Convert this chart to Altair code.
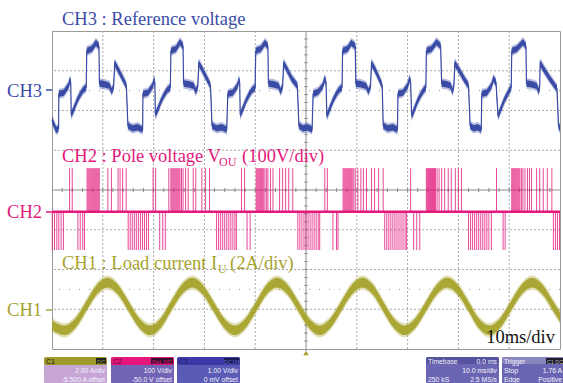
import altair as alt
import pandas as pd

# ---------------- data (time in ms, amplitude in screen divisions, 0 = bottom) -------------
ch3_t = [0.0, 0.83, 1.30,
         1.34, 2.34, 3.24, 3.54, 3.69, 3.79, 4.34, 4.94, 5.54, 6.14, 6.74, 6.84, 7.84, 8.64, 9.24, 9.34,
         10.34, 11.34, 11.74, 12.14, 12.34, 13.14, 13.94, 14.64, 14.94, 15.84, 16.84, 17.84,
         17.90, 18.90, 19.80, 20.10, 20.25, 20.35, 20.90, 21.50, 22.10, 22.70, 23.30, 23.40, 24.40, 25.20, 25.80, 25.90,
         26.90, 27.90, 28.30, 28.70, 28.90, 29.70, 30.50, 31.20, 31.50, 32.40, 33.40, 34.40,
         34.60, 35.60, 36.50, 36.80, 36.95, 37.05, 37.60, 38.20, 38.80, 39.40, 40.00, 40.10, 41.10, 41.90, 42.50, 42.60,
         43.60, 44.60, 45.00, 45.40, 45.60, 46.40, 47.20, 48.30, 48.60, 49.40, 50.30, 51.20,
         51.40, 52.40, 53.30, 53.70, 53.95, 54.10, 54.70, 55.30, 55.90, 56.50, 57.10, 57.20, 58.20, 58.90, 59.70, 59.80,
         60.80, 61.80, 62.30, 62.70, 62.90, 63.70, 64.40, 65.00, 65.20, 66.10, 67.10, 68.00,
         68.10, 69.10, 70.00, 70.40, 70.60, 70.80, 71.40, 72.00, 72.60, 73.20, 73.60, 73.70, 74.70, 75.70, 76.50, 76.70,
         77.70, 78.50, 78.80, 79.10, 79.30, 80.20, 81.10, 82.00, 82.30, 83.00, 83.80, 84.50,
         84.60, 85.60, 86.50, 86.90, 87.40, 87.80, 88.40, 89.00, 89.60, 90.10, 90.40, 90.50, 91.50, 92.70, 93.30, 93.40,
         94.40, 95.40, 95.80, 96.00, 96.10, 97.00, 98.00, 99.40, 99.70, 100.0]
ch3_v = [5.76, 5.51, 5.55,
         6.42, 6.45, 6.62, 6.77, 6.70, 5.89, 6.05, 6.25, 6.40, 6.52, 6.58, 7.50, 7.55, 7.70, 7.62, 6.68,
         6.66, 6.62, 6.48, 6.60, 7.19, 7.00, 6.80, 6.62, 5.62, 5.55, 5.58, 5.52,
         6.42, 6.45, 6.62, 6.77, 6.70, 5.89, 6.05, 6.25, 6.40, 6.52, 6.58, 7.50, 7.55, 7.72, 7.62, 6.68,
         6.66, 6.62, 6.48, 6.60, 7.19, 7.00, 6.80, 6.62, 5.62, 5.55, 5.58, 5.52,
         6.42, 6.45, 6.62, 6.77, 6.70, 5.89, 6.05, 6.25, 6.40, 6.52, 6.58, 7.50, 7.55, 7.70, 7.62, 6.68,
         6.66, 6.62, 6.48, 6.60, 7.19, 7.00, 6.80, 6.62, 5.62, 5.55, 5.58, 5.52,
         6.42, 6.47, 6.62, 6.80, 6.70, 5.86, 6.05, 6.25, 6.40, 6.52, 6.58, 7.50, 7.55, 7.70, 7.62, 6.68,
         6.66, 6.62, 6.48, 6.60, 7.19, 7.00, 6.80, 6.62, 5.62, 5.55, 5.58, 5.52,
         6.42, 6.45, 6.62, 6.80, 6.70, 5.86, 6.05, 6.25, 6.40, 6.52, 6.58, 7.50, 7.55, 7.72, 7.62, 6.68,
         6.66, 6.62, 6.48, 6.60, 7.19, 7.00, 6.80, 6.62, 5.62, 5.55, 5.58, 5.52,
         6.42, 6.45, 6.62, 6.80, 6.70, 5.86, 6.05, 6.25, 6.40, 6.52, 6.58, 7.50, 7.55, 7.72, 7.62, 6.68,
         6.66, 6.62, 6.48, 6.60, 7.19, 7.00, 6.80, 6.55, 5.62, 5.55]

ch1_t = [0.0, 2.5, 4.6, 6.7, 8.8, 10.9, 13.0, 15.1, 17.2, 19.3, 21.4, 23.4, 25.5, 27.6, 29.7, 31.8,
         33.9, 36.0, 38.1, 40.2, 42.2, 44.3, 46.4, 48.5, 50.6, 52.7, 54.8, 56.9, 59.0, 61.1, 63.2,
         65.2, 67.3, 69.4, 71.5, 73.6, 75.7, 77.8, 79.9, 82.0, 84.0, 86.1, 88.2, 90.3, 92.4, 94.5,
         96.6, 98.7, 100.0]
ch1_v = [0.60, 0.47, 0.65, 1.07, 1.49, 1.67, 1.49, 1.07, 0.65, 0.47, 0.65, 1.07, 1.49, 1.67, 1.49, 1.07,
         0.65, 0.47, 0.65, 1.07, 1.49, 1.67, 1.49, 1.07, 0.65, 0.47, 0.65, 1.07, 1.49, 1.67, 1.49,
         1.07, 0.65, 0.47, 0.65, 1.07, 1.49, 1.67, 1.49, 1.07, 0.65, 0.47, 0.65, 1.07, 1.49, 1.67,
         1.49, 1.07, 0.80]

ch2_base = 3.45
ch2_high = 4.55
ch2_low = 2.49
pos_pulses = [3.45, 3.98,
              6.9, 7.1, 7.3, 7.5, 7.7, 7.9, 8.1, 8.3, 8.5, 8.7, 8.9, 9.1, 9.3,
              11.0, 11.7, 13.0, 13.4, 13.9, 14.6,
              19.9, 20.4,
              23.0, 23.4, 23.6, 23.8, 24.0, 24.2, 24.4, 24.6, 24.8, 25.0, 25.2, 25.5, 25.8, 26.3, 26.8,
              27.8, 28.3, 29.5, 30.2, 31.0,
              37.3, 37.9,
              40.2, 40.4, 40.6, 40.8, 41.0, 41.2, 41.4, 41.6, 41.9, 42.2, 42.5, 43.0, 43.5,
              44.8, 45.4, 46.0, 46.6, 47.4,
              53.7, 54.2,
              57.3, 57.5, 57.7, 57.9, 58.1, 58.3, 58.5, 58.7, 58.9, 59.1, 59.4, 59.7, 60.2, 60.8, 61.3, 61.9,
              62.9, 63.5, 64.3, 65.2,
              70.6,
              73.7, 73.9, 74.1, 74.3, 74.5, 74.7, 74.9, 75.1, 75.3, 75.5, 75.8, 76.2, 76.7, 77.3,
              78.0, 78.6, 79.4, 80.0, 80.6,
              87.5,
              90.5, 90.7, 90.9, 91.1, 91.3, 91.5, 91.7, 91.9, 92.1, 92.4, 92.7, 93.1, 93.6, 94.0, 94.4,
              95.4, 96.0, 96.7, 97.5, 98.4]
neg_pulses = [0.05, 0.5, 0.95, 1.35, 1.8, 2.25,
              5.1, 5.55, 6.05, 6.4,
              15.0, 15.4, 15.8, 16.2, 16.6, 17.0, 17.4, 17.8, 18.2, 18.6, 19.0,
              21.2, 21.8, 22.3,
              32.4, 32.8, 33.2, 33.6, 34.0, 34.4, 34.8, 35.2, 35.6, 36.0, 36.3,
              38.4, 39.0,
              48.4, 48.8, 49.2, 49.6, 50.0, 50.4, 50.8, 51.2, 51.6, 52.0, 52.4, 52.7,
              55.3, 56.0, 56.3,
              65.5, 65.9, 66.3, 66.7, 67.1, 67.5, 67.9, 68.3, 68.7, 69.1, 69.5, 69.8,
              71.2, 71.8, 72.4,
              82.0, 82.4, 82.8, 83.2, 83.6, 84.0, 84.4, 84.8, 85.2, 85.6, 86.0, 86.5,
              88.8, 89.2,
              98.7, 99.1, 99.5, 99.9]

grid_t = [10, 20, 30, 40, 60, 70, 80, 90]
grid_d = [1, 2, 3, 5, 6, 7]
dotted_d = [6.5, 1.5]

# ---------------- layout ----------------
W, H = 508, 318
PADL, PADT = 52, 31
BLUE = "#3a4ca6"
MAG = "#e3197c"
OLIVE = "#a6a32e"
SERIF = "Liberation Serif"
SANS = "Liberation Sans"

xs = alt.Scale(domain=[0, 100], nice=False, zero=False)
ys = alt.Scale(domain=[0, 8], nice=False, zero=False)


def X(f):
    return alt.X(f, type="quantitative", scale=xs, axis=None)


def Y(f):
    return alt.Y(f, type="quantitative", scale=ys, axis=None)


one = pd.DataFrame({"a": [0]})


def txt(s, x, y, size=18.5, color="#000", font=SERIF, align="left"):
    return alt.Chart(one).mark_text(text=s, align=align, baseline="alphabetic", font=font,
                                    fontSize=size, color=color).encode(
        x=alt.value(x - PADL), y=alt.value(y - PADT))


def box(x1, y1, x2, y2, color, r=0):
    return alt.Chart(one).mark_rect(color=color, cornerRadius=r).encode(
        x=alt.value(x1 - PADL), x2=alt.value(x2 - PADL), y=alt.value(y1 - PADT), y2=alt.value(y2 - PADT))


def hline(x1, x2, y, color, w=1.5):
    return alt.Chart(one).mark_rule(color=color, strokeWidth=w).encode(
        x=alt.value(x1 - PADL), x2=alt.value(x2 - PADL), y=alt.value(y - PADT))


def band(df, half, color, opacity, interp="linear"):
    d = df.copy()
    d["lo"] = d["v"] - half
    d["hi"] = d["v"] + half
    return alt.Chart(d).mark_area(color=color, opacity=opacity, interpolate=interp).encode(
        x=X("t"), y=Y("lo"), y2="hi")


layers = []

# graticule
layers.append(alt.Chart(pd.DataFrame({"t": grid_t})).mark_rule(color="#a8a8a8", strokeWidth=1, strokeDash=[2, 2]).encode(x=X("t")))
layers.append(alt.Chart(pd.DataFrame({"d": grid_d})).mark_rule(color="#a8a8a8", strokeWidth=1, strokeDash=[2, 2]).encode(y=Y("d")))
layers.append(alt.Chart(pd.DataFrame({"d": dotted_d})).mark_rule(color="#9a9a9a", strokeWidth=1, strokeDash=[1, 9]).encode(y=Y("d")))
layers.append(alt.Chart(pd.DataFrame({"t": [50]})).mark_rule(color="#8c8c8c", strokeWidth=1).encode(x=X("t")))
layers.append(alt.Chart(pd.DataFrame({"d": [4]})).mark_rule(color="#8c8c8c", strokeWidth=1).encode(y=Y("d")))
vt = pd.DataFrame({"d": [i / 5 for i in range(1, 40)]})
vt["a"], vt["b"] = 49.65, 50.35
layers.append(alt.Chart(vt).mark_rule(color="#8c8c8c", strokeWidth=1).encode(x=X("a"), x2="b", y=Y("d")))
ht = pd.DataFrame({"t": [i * 2 for i in range(1, 50)]})
ht["a"], ht["b"] = 3.95, 4.05
layers.append(alt.Chart(ht).mark_rule(color="#8c8c8c", strokeWidth=1).encode(x=X("t"), y=Y("a"), y2="b"))

# CH1 load current (noisy band)
ch1 = pd.DataFrame({"t": ch1_t, "v": ch1_v})
layers.append(band(ch1, 0.18, OLIVE, 0.35, "monotone"))
layers.append(band(ch1, 0.12, OLIVE, 0.95, "monotone"))

# CH2 pole voltage
pp = pd.DataFrame({"t": pos_pulses})
pp["a"], pp["b"] = ch2_base, ch2_high
npl = pd.DataFrame({"t": neg_pulses})
npl["a"], npl["b"] = ch2_base, ch2_low
layers.append(alt.Chart(pp).mark_rule(color=MAG, strokeWidth=1, opacity=0.8).encode(x=X("t"), y=Y("a"), y2="b"))
layers.append(alt.Chart(npl).mark_rule(color=MAG, strokeWidth=1, opacity=0.8).encode(x=X("t"), y=Y("a"), y2="b"))
layers.append(alt.Chart(pd.DataFrame({"t": [0, 100], "v": [ch2_base, ch2_base]})).mark_line(color=MAG, strokeWidth=2.5).encode(x=X("t"), y=Y("v")))

# CH3 reference voltage (noisy band + thin trace)
ch3 = pd.DataFrame({"t": ch3_t, "v": ch3_v})
layers.append(band(ch3, 0.13, BLUE, 0.35))
layers.append(band(ch3, 0.08, BLUE, 1.0))
layers.append(alt.Chart(ch3).mark_line(color=BLUE, strokeWidth=1.2).encode(x=X("t"), y=Y("v")))

# trigger marker
layers.append(alt.Chart(pd.DataFrame({"t": [50]})).mark_point(shape="triangle-up", filled=True, size=30, color=OLIVE, opacity=1).encode(x=X("t"), y=alt.value(353 - PADT)))
layers.append(alt.Chart(pd.DataFrame({"t": [50]})).mark_rule(color="#8c8c8c").encode(x=X("t"), y=alt.value(H), y2=alt.value(351 - PADT)))

# texts
layers += [
    txt("CH3 : Reference voltage", 62, 25, color=BLUE),
    txt("CH3", 42, 97, color=BLUE, align="right"), hline(46, 52, 90, BLUE),
    txt("CH2 : Pole voltage V", 62, 162, color=MAG),
    txt("OU", 219, 166, size=12, color=MAG),
    txt("(100V/div)", 242, 162, color=MAG),
    txt("CH2", 42, 218, color=MAG, align="right"), hline(46, 52, 212, MAG),
    txt("CH1 : Load current I", 62, 269, color=OLIVE),
    txt("U", 218, 273, size=12, color=OLIVE),
    txt("(2A/div)", 230, 269, color=OLIVE),
    txt("CH1", 42, 316, color=OLIVE, align="right"), hline(46, 52, 310, OLIVE),
    txt("10ms/div", 555, 343, color="#111", align="right"),
]

# bottom info boxes
FS = 6.8
WHITE = "#f4f2fa"
layers += [
    box(44, 357, 107, 384, "#c7a6d6", 2), box(44, 357, 107, 365, "#9e9b2c", 2),
    box(96, 358, 106, 364, "#222"), txt("C1", 46, 364, FS, "#111", SANS), txt("DC", 101, 363.5, 5.5, "#9e9b2c", SANS, "center"),
    txt("2.00 A/div", 105, 373, FS, WHITE, SANS, "right"), txt("-5.500 A offset", 105, 382, FS, WHITE, SANS, "right"),

    box(111, 357, 174, 384, "#7263b4", 2), box(111, 357, 174, 365, "#e5167a", 2),
    box(151, 358, 173, 364, "#3a1030"), txt("C2", 113, 364, FS, "#5a0a30", SANS), txt("DeL DC", 162, 363.5, 5.5, "#e5167a", SANS, "center"),
    txt("100 V/div", 172, 373, FS, WHITE, SANS, "right"), txt("-50.0 V offset", 172, 382, FS, WHITE, SANS, "right"),

    box(177, 357, 240, 384, "#5b5ab6", 2), box(177, 357, 240, 365, "#3b3aa8", 2),
    box(224, 358, 239, 364, "#1a1a50"), txt("C3", 179, 364, FS, "#202070", SANS), txt("DC1M", 231.5, 363.5, 5.5, "#6a6ad0", SANS, "center"),
    txt("1.00 V/div", 238, 373, FS, WHITE, SANS, "right"), txt("0 mV offset", 238, 382, FS, WHITE, SANS, "right"),

    box(426, 357, 499, 384, "#6a66b4", 2), box(426, 357, 499, 364, "#56529f", 2),
    txt("Timebase", 428, 363.5, FS, WHITE, SANS), txt("0.0 ms", 497, 363.5, FS, WHITE, SANS, "right"),
    txt("10.0 ms/div", 497, 373, FS, WHITE, SANS, "right"),
    txt("250 kS", 428, 382, FS, WHITE, SANS), txt("2.5 MS/s", 497, 382, FS, WHITE, SANS, "right"),

    box(502, 357, 564, 384, "#6a66b4", 2), box(502, 357, 564, 364, "#8886bc", 2),
    box(546, 358, 564, 364, "#1c1c2c"), txt("C1 DC", 555, 363.5, 5.5, "#bbbbbb", SANS, "center"),
    txt("Trigger", 504, 363.5, FS, WHITE, SANS),
    txt("Stop", 504, 373, FS, WHITE, SANS), txt("1.76 A", 562, 373, FS, WHITE, SANS, "right"),
    txt("Edge", 504, 382, FS, WHITE, SANS), txt("Positive", 562, 382, FS, WHITE, SANS, "right"),
]

chart = alt.layer(*layers).properties(
    width=W, height=H,
    padding={"left": PADL, "top": PADT, "right": 3, "bottom": 34},
    autosize="none", background="white",
).configure_view(stroke="#9a9a9a", strokeWidth=1)

chart.save("out.html", embed_options={"renderer": "svg", "actions": False})
